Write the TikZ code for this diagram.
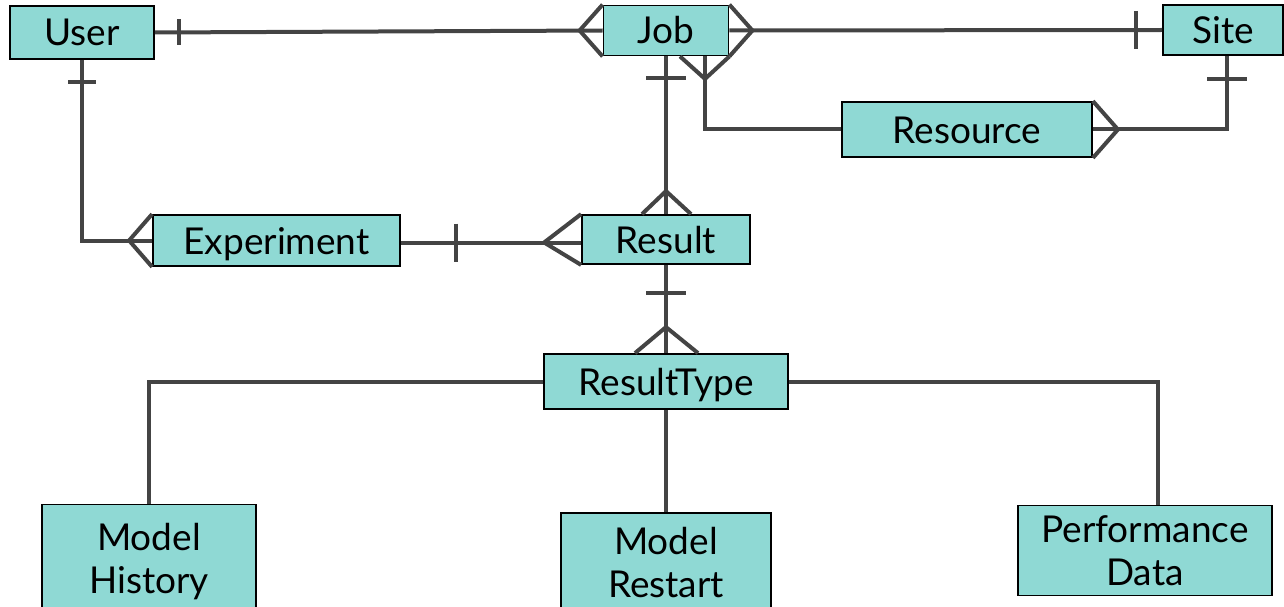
\documentclass[tikz,border=0pt]{standalone}
\usepackage{fontspec}
\setmainfont{Lato}
\usetikzlibrary{calc}
\definecolor{ent}{RGB}{143,217,212}
\definecolor{ln}{RGB}{68,68,68}
\begin{document}
\begin{tikzpicture}[x=1pt,y=-1pt,
  entity/.style={draw=black, line width=1.8pt, fill=ent, inner sep=0pt,
    font=\fontsize{37}{43}\selectfont, align=center},
  oneline/.style={text height=27pt, text depth=0pt},
  rel/.style={draw=ln, line width=4pt},
  crow/.style={draw=ln, line width=4pt, line join=miter},
]
\useasboundingbox (0,0) rectangle (1284,607);
% entities
\node[entity, oneline, minimum width=144pt, minimum height=53pt] (user) at (82,32.5) {User};
\node[entity, oneline, minimum width=125pt, minimum height=50pt] (job) at (666,30.5) {Job};
\node[entity, oneline, minimum width=120pt, minimum height=50pt] (site) at (1223,30) {Site};
\node[entity, oneline, minimum width=250pt, minimum height=55pt] (resource) at (967,129.5) {Resource};
\node[entity, oneline, minimum width=247pt, minimum height=51pt] (experiment) at (276.5,240.5) {Experiment};
\node[entity, oneline, minimum width=168pt, minimum height=49pt] (result) at (666,239.5) {Result};
\node[entity, oneline, minimum width=244pt, minimum height=55pt] (resulttype) at (666,381.5) {ResultType};
\node[entity, minimum width=214pt, minimum height=115pt] (mh) at (149,562) {Model\\History};
\node[entity, minimum width=210pt, minimum height=99pt] (mr) at (666,562.5) {Model\\Restart};
\node[entity, minimum width=254pt, minimum height=90pt] (pd) at (1145,550.5) {Performance\\Data};

% User -- Job
\draw[rel] (user.east) -- (job.west);
\draw[rel] ($(user.east)+(24,-13)$) -- ++(0,26);
\draw[crow] (job.north west) -- ($(job.west)+(-23,0)$) -- (job.south west);
% Job -- Site
\draw[rel] (job.east) -- (site.west);
\draw[crow] (job.north east) -- ($(job.east)+(23,0)$) -- (job.south east);
\draw[rel] ($(site.west)+(-26,-19)$) -- ++(0,38);
% Job -- Result
\draw[rel] (job.south) -- (result.north);
\draw[rel] ($(job.south)+(-20,22)$) -- ++(40,0);
\draw[crow] ($(result.north)+(-24,0)$) -- ($(result.north)+(0,-23)$) -- ($(result.north)+(25,0)$);
% Job -- Resource
\coordinate (jr) at ($(job.south)+(39,0)$);
\draw[rel] (jr) |- (resource.west);
\draw[crow] ($(job.south)+(14,0)$) -- ($(job.south)+(39,22.5)$) -- (job.south east);
% Resource -- Site
\coordinate (sr) at ($(site.south)+(4,0)$);
\draw[rel] (resource.east) -| (sr);
\draw[crow] (resource.north east) -- ($(resource.east)+(25,0)$) -- (resource.south east);
\draw[rel] ($(sr)+(-20,23)$) -- ++(40,0);
% User -- Experiment
\draw[rel] (user.south) |- (experiment.west);
\draw[rel] ($(user.south)+(-14,22)$) -- ++(28,0);
\draw[crow] (experiment.north west) -- ($(experiment.west)+(-23,0)$) -- (experiment.south west);
% Experiment -- Result
\coordinate (rw) at ($(result.west)+(0,3)$);
\draw[rel] (experiment.east |- rw) -- (rw);
\draw[rel] ($(experiment.east |- rw)+(55,-19)$) -- ++(0,38);
\draw[crow] (result.north west) -- ($(rw)+(-37,0)$) -- (result.south west);
% Result -- ResultType
\draw[rel] (result.south) -- (resulttype.north);
\draw[rel] ($(result.south)+(-20,28)$) -- ++(40,0);
\draw[crow] ($(resulttype.north)+(-31,0)$) -- ($(resulttype.north)+(0,-26)$) -- ($(resulttype.north)+(32,0)$);
% ResultType -- subtypes
\draw[rel] (resulttype.west) -| (mh.north);
\draw[rel] (resulttype.south) -- (mr.north);
\coordinate (pdt) at ($(pd.north)+(13,0)$);
\draw[rel] (resulttype.east) -| (pdt);
\end{tikzpicture}
\end{document}
